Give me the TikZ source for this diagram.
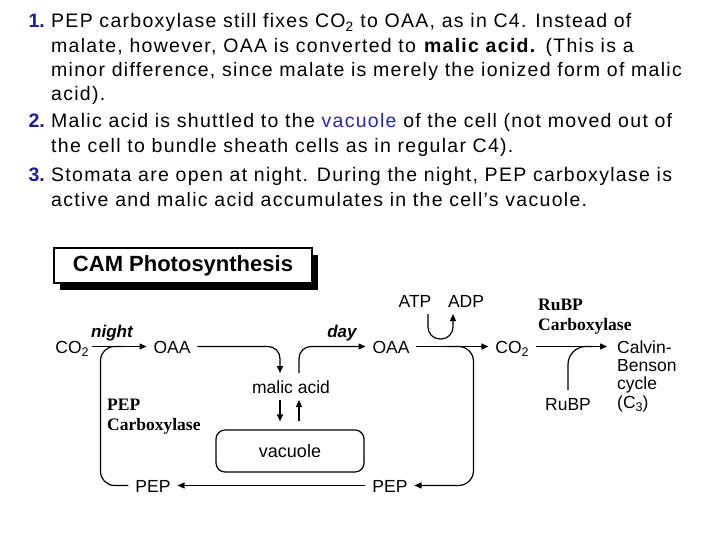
\documentclass[tikz,border=0pt]{standalone}
\usepackage{fontspec}
\setmainfont{Liberation Sans}
\newfontfamily\enzfont{Liberation Serif}
\newfontfamily\notefont[LetterSpace=6.6]{Liberation Sans}
\usetikzlibrary{arrows.meta, positioning, calc, shadows}
\definecolor{numBlue}{RGB}{30,30,150}
\definecolor{termBlue}{RGB}{40,40,175}
\newcommand{\chemsub}[1]{\raisebox{-3.5pt}{\fontsize{12.5}{12.5}\selectfont #1}}
\tikzset{
    >={Triangle[length=7pt,width=6pt]},
    % Notes
    note/.style={anchor=base west, align=left, inner sep=0pt, font=\notefont\fontsize{19.5}{24.2}\selectfont},
    num/.style={anchor=base east, inner sep=0pt, text=numBlue, font=\bfseries\fontsize{19.5}{24.2}\selectfont},
    % Diagram text
    chem/.style={anchor=base, inner sep=0pt, outer sep=7pt, text height=13pt, text depth=0pt,
                 font=\fontsize{17.5}{19}\selectfont},
    cond/.style={anchor=base, inner sep=0pt, font=\bfseries\itshape\fontsize{17}{19}\selectfont},
    enz/.style={anchor=base west, align=left, inner sep=0pt, font=\enzfont\bfseries\fontsize{17.5}{20}\selectfont},
    cyclelbl/.style={anchor=base west, align=left, inner sep=0pt, font=\fontsize{17.5}{18.3}\selectfont},
    % Boxes
    titlebox/.style={draw, line width=1.5pt, fill=white, minimum width=258pt, minimum height=35pt,
                     drop shadow={shadow xshift=6pt, shadow yshift=-7pt, fill=black, opacity=1},
                     font=\bfseries\fontsize{22}{24}\selectfont},
    vacbox/.style={draw, line width=1.2pt, rounded corners=9pt, minimum width=148pt, minimum height=42pt,
                   font=\fontsize{18}{20}\selectfont},
    % Flow
    flow/.style={->, line width=1.2pt},
    merge/.style={line width=1.2pt, rounded corners=14pt}
}

\begin{document}
\begin{tikzpicture}[x=1pt, y=-1pt]
\useasboundingbox[fill=white] (0,0) rectangle (720,540);

% Notes (a multi-line node sits on its last baseline)
\node[num] (n1) at (45,28) {1.};
\node[note] (note1) at (51,100.6) {PEP carboxylase still fixes CO\textsubscript{2} to OAA, as in C4. Instead of\\
    malate, however, OAA is converted to \textbf{malic acid.} (This is a\\
    minor difference, since malate is merely the ionized form of malic\\
    acid).};
\node[num] (n2) at (45,128) {2.};
\node[note] (note2) at (51,152.2) {Malic acid is shuttled to the \textcolor{termBlue}{vacuole} of the cell (not moved out of\\
    the cell to bundle sheath cells as in regular C4).};
\node[num] (n3) at (45,182) {3.};
\node[note] (note3) at (51,206.2) {Stomata are open at night. During the night, PEP carboxylase is\\
    active and malic acid accumulates in the cell’s vacuole.};

% Diagram
\node[titlebox] (title) at (183,265.5) {CAM Photosynthesis};

\node[chem] (co2a) at (72,353) {CO\chemsub{2}};
\node[chem] (oaa1) at (172,353) {OAA};
\node[chem] (oaa2) at (391,353) {OAA};
\node[chem] (co2b) at (512,353) {CO\chemsub{2}};
\node[chem] (malic) at (291,393) {malic acid};
\node[chem] (atp) at (415,307) {ATP};
\node[chem] (adp) at (466,307) {ADP};
\node[chem] (rubp) at (568,410) {RuBP};
\node[chem] (pepl) at (153,492) {PEP};
\node[chem] (pepr) at (390,492) {PEP};
\node[vacbox] (vac) at (290,451) {vacuole};

\node[cond] (night) at (112,337) {night};
\node[cond] (day) at (342,337) {day};
\node[enz] (pepc) at (107,430) {PEP\\Carboxylase};
\node[enz] (rubpc) at (538,330) {RuBP\\Carboxylase};
\node[cyclelbl] (calvin) at (617,408) {Calvin-\\Benson\\cycle\\(C\chemsub{3})};

\coordinate (joinL) at (124,346.5);
\coordinate (forkR) at (445,346.5);
\coordinate (joinRu) at (594,346.5);

\draw[flow] ([xshift=-4pt]co2a.east) -- (oaa1.west);
\draw[flow, rounded corners=12pt] (oaa1.east) -| ([xshift=-11pt]malic.north);
\draw[flow, rounded corners=12pt] ([xshift=8pt]malic.north) |- (oaa2.west);
\draw[flow] (oaa2) -- (co2b);
\draw[flow, shorten >=10pt] (co2b.east) -- (co2b.east -| calvin.west);
\draw[flow, rounded corners=12pt] ([xshift=13pt]atp.south) -- ++(0,25) -| ([xshift=-13pt]adp.south);
\draw[merge, rounded corners=18pt] (rubp.north) |- (joinRu);

\draw[flow, shorten >=8pt] ([xshift=-11pt]malic.south) -- ([xshift=-10pt]vac.north);
\draw[flow, shorten <=8pt] ([xshift=9pt]vac.north) -- ([xshift=8pt]malic.south);

\draw[flow] (pepr.west) -- (pepl.east);
\draw[merge] (pepl.west) -- ++(-28,0) |- (joinL);
\draw[flow, rounded corners=15pt] (forkR) -| ($(pepr.east)+(59,0)$) -- (pepr.east);

\end{tikzpicture}
\end{document}
